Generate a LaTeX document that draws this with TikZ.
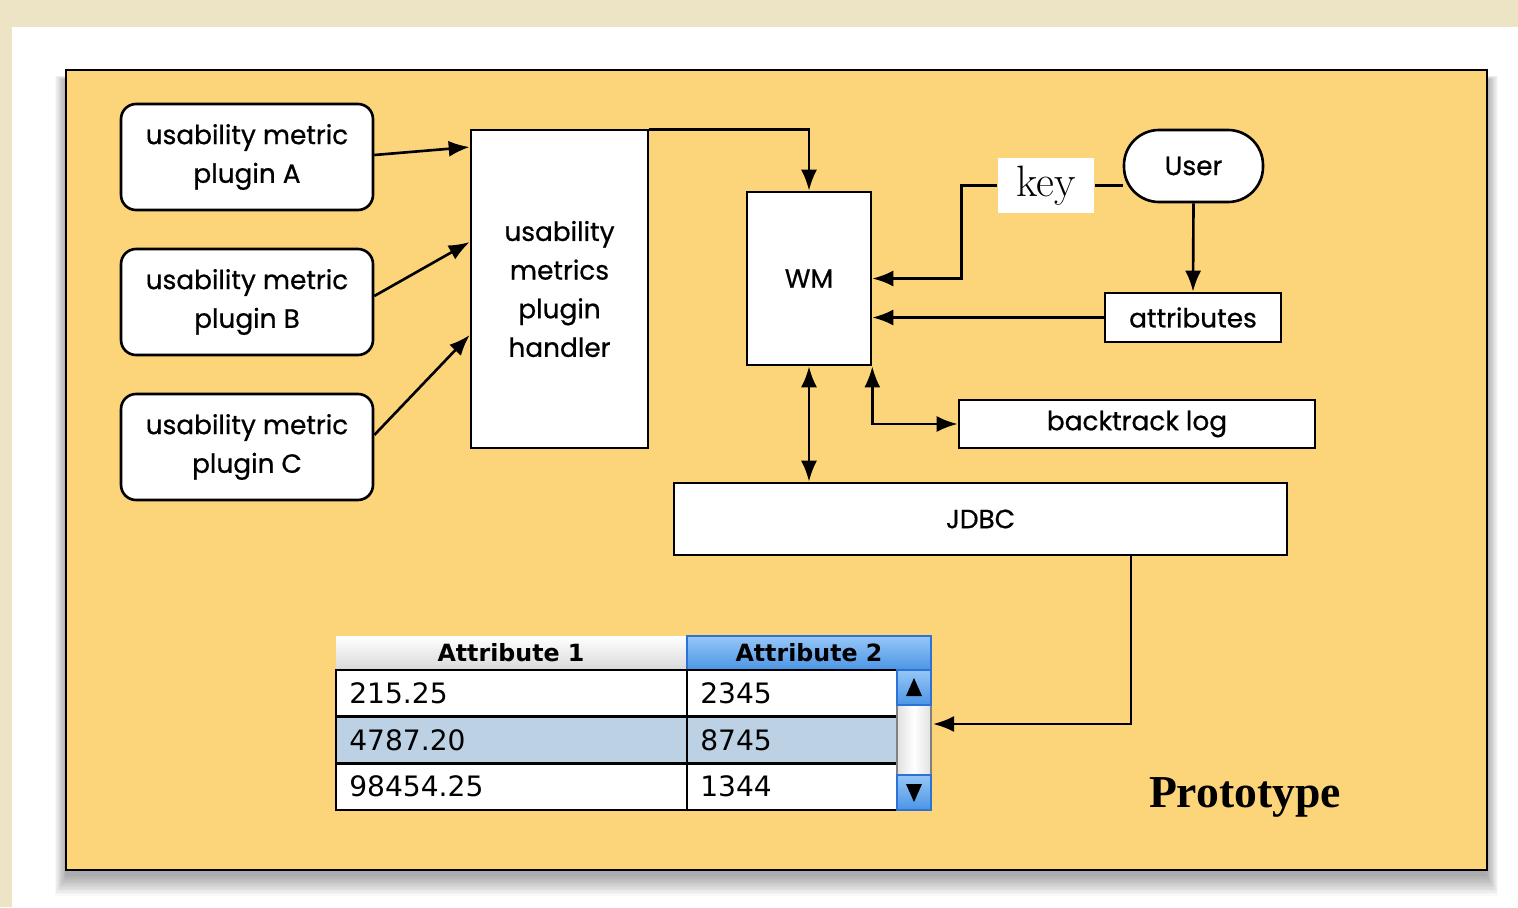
\documentclass[tikz,border=0pt]{standalone}
\usepackage{fontspec}
\usetikzlibrary{arrows.meta}
\newfontfamily\boxfont[FakeBold=0.7]{Poppins}
\newfontfamily\tabfont{DejaVu Sans}
\newfontfamily\protofont{Liberation Serif}

\definecolor{beige}{RGB}{236,228,196}
\definecolor{orangebg}{RGB}{252,213,122}
\definecolor{selrow}{RGB}{188,209,228}
\definecolor{headblue}{RGB}{75,149,229}
\definecolor{lightblue}{RGB}{150,199,247}
\definecolor{edgeblue}{RGB}{45,115,215}

\tikzset{
	plugin/.style={draw,fill=white,rounded corners=0.3cm,align=center,
		minimum width=5.04cm,minimum height=2.12cm,
		font=\boxfont\fontsize{15}{22}\selectfont},
	box/.style={draw,fill=white,align=center,inner sep=0pt,
		font=\boxfont\fontsize{15}{22}\selectfont},
	cell/.style={inner sep=0pt,font=\tabfont\fontsize{16}{18}\selectfont},
	head/.style={inner sep=0pt,font=\tabfont\bfseries\fontsize{13.5}{16}\selectfont}
}

\begin{document}
\begin{tikzpicture}[x=0.02cm,y=-0.02cm,>={Latex[length=0.42cm,width=0.32cm]},line width=1.5pt]
\useasboundingbox (0,0) rectangle (1518,907);
\fill[beige] (0,0) rectangle (1518,907);
\fill[white] (12,27) rectangle (1518,907);

% shadow and frame
\foreach \s in {0,...,14}{
	\fill[black,opacity=0.022] ({66-0.8*\s},{80-0.3*\s}) rectangle ({1487+0.8*\s},{876+1.4*\s});
}
\draw[fill=orangebg,line width=1.6pt] (66,70) rectangle (1487,870);

\node[plugin] (pa) at (247,157) {usability metric\\plugin A};
\node[plugin] (pb) at (247,302) {usability metric\\plugin B};
\node[plugin] (pc) at (247,447) {usability metric\\plugin C};

\node[box,minimum width=3.54cm,minimum height=6.36cm] (handler) at (559.5,289)
	{usability\\metrics\\plugin\\handler};
\node[box,minimum width=2.48cm,minimum height=3.46cm] (wm) at (809,278.5) {WM};
\node[box,rounded corners=0.7cm,minimum width=2.78cm,minimum height=1.44cm]
	(user) at (1193.5,166) {User};
\node[fill=white,minimum width=1.92cm,minimum height=1.1cm,inner sep=0pt,
	font=\fontsize{25}{30}\selectfont] (key) at (1046,185.5) {key};
\node[box,minimum width=3.52cm,minimum height=0.98cm] (attr) at (1193,317.5) {attributes};
\node[box,minimum width=7.12cm,minimum height=0.96cm] (blog) at (1137,424) {backtrack log};
\node[box,minimum width=12.26cm,minimum height=1.44cm] (jdbc) at (980.5,519) {JDBC};

% table
\shade[top color=white,bottom color=black!15] (336,636) rectangle (687,670);
\shade[top color=lightblue,bottom color=headblue] (687,636) rectangle (931,670);
\draw[edgeblue,line width=0.8pt] (687,636) rectangle (931,670);
\fill[white] (336,670) rectangle (897,810);
\fill[selrow] (336,716.67) rectangle (897,763.33);
\foreach \y in {670,716.67,763.33}{
	\draw (336,\y) rectangle (897,{\y+46.67});
}
\draw (687,670) -- (687,810);
\shade[left color=black!12,right color=black!12,middle color=white] (897,705) rectangle (931,775);
\draw[black!50,line width=0.6pt] (897,705) rectangle (931,775);
\foreach \y in {670,775}{
	\shade[top color=lightblue,bottom color=headblue] (897,\y) rectangle (931,{\y+35});
	\draw[edgeblue,line width=0.8pt] (897,\y) rectangle (931,{\y+35});
}
\fill (914,678) -- (922,696) -- (906,696) -- cycle;
\fill (914,802) -- (922,784) -- (906,784) -- cycle;

\node[head] (h1) at (511,653) {Attribute 1};
\node[head] (h2) at (809,653) {Attribute 2};
\foreach \a/\b [count=\i] in {215.25/2345,4787.20/8745,98454.25/1344}{
	\node[cell,anchor=west] (a\i) at (348,{670+46.67*(\i-0.5)}) {\a};
	\node[cell,anchor=west] (b\i) at (699,{670+46.67*(\i-0.5)}) {\b};
}
\coordinate (tbl) at (933,724);

\node[font=\protofont\bfseries\fontsize{26}{30}\selectfont] (proto) at (1245,797) {Prototype};

% connectors
\draw[->] ([yshift=0.04cm]pa.east) -- ([yshift=2.84cm]handler.west);
\draw[->] ([yshift=0.12cm]pb.east) -- ([yshift=0.94cm]handler.west);
\draw[->] ([yshift=0.24cm]pc.east) -- ([yshift=-0.92cm]handler.west);
\draw[->] ([yshift=-0.02cm]handler.north east) -| (wm.north);
\draw (key.east) -- (key.east -| user.west);
\draw[->] (key.west) -- ++(-35,0) |- (wm.east);
\draw[->] (user.south) -- (attr.north);
\draw[->] (attr.west) -- (attr.west -| wm.east);
\draw[<->] (wm.south) -- (wm.south |- jdbc.north);
\draw[<->] (wm.south east) |- (blog.west);
\draw[->] ([xshift=3.01cm]jdbc.south) |- (tbl);

\end{tikzpicture}
\end{document}
